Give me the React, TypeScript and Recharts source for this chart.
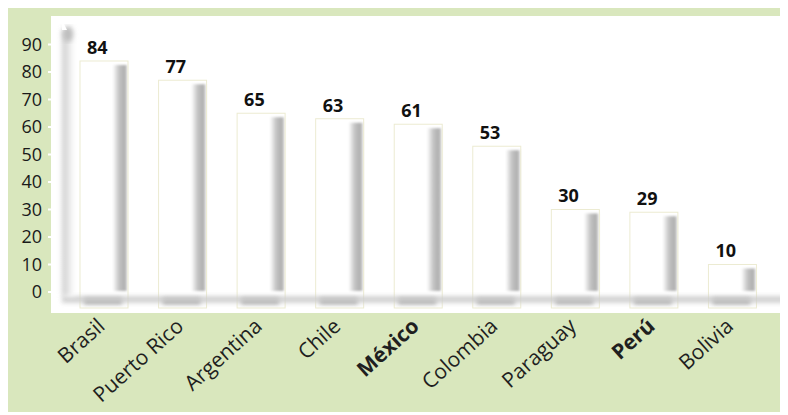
import React from 'react';
import { BarChart, Bar, XAxis, YAxis, CartesianGrid, LabelList, ReferenceLine } from 'recharts';

const categories = ['Brasil', 'Puerto Rico', 'Argentina', 'Chile', 'México', 'Colombia', 'Paraguay', 'Perú', 'Bolivia'];
const values = [84, 77, 65, 63, 61, 53, 30, 29, 10];
const yTicks = [0, 10, 20, 30, 40, 50, 60, 70, 80, 90];
const boldCategories = ['México', 'Perú'];

const data = categories.map((name, i) => ({ name, value: values[i] }));

const BarShape = (props: any) => {
  const { x, y, width, height } = props;
  if (width == null || height == null) return null;
  const base = y + height;
  return (
    <g>
      <rect x={x} y={y} width={width} height={height} fill="#ffffff" />
      <rect x={x + width * 0.68} y={y + 4} width={width * 0.32 - 1} height={Math.max(0, height - 5)} fill="url(#barShade)" filter="url(#soft)" />
      <rect x={x + 4} y={base + 6} width={width - 10} height={6} fill="#a0a0a0" filter="url(#blurFloor)" />
      <rect x={x} y={y} width={width} height={height + 16} fill="none" stroke="#ecebd2" strokeWidth={1} />
    </g>
  );
};

const Decor = (props: any) => {
  const { x1, x2, y1 } = props;
  return (
    <g>
      <defs>
        <linearGradient id="barShade" x1="0" y1="0" x2="1" y2="0">
          <stop offset="0%" stopColor="#ffffff" />
          <stop offset="45%" stopColor="#c4c4c4" />
          <stop offset="80%" stopColor="#b0b0b0" />
          <stop offset="100%" stopColor="#cacaca" />
        </linearGradient>
        <linearGradient id="axisShade" x1="0" y1="0" x2="1" y2="0">
          <stop offset="0%" stopColor="#c8c8c8" />
          <stop offset="100%" stopColor="#ffffff" />
        </linearGradient>
        <filter id="soft" x="-50%" y="-20%" width="200%" height="140%">
          <feGaussianBlur stdDeviation="1.3" />
        </filter>
        <filter id="blurFloor" x="-30%" y="-100%" width="160%" height="300%">
          <feGaussianBlur stdDeviation="2" />
        </filter>
        <filter id="blurAxis" x="-100%" y="-10%" width="300%" height="120%">
          <feGaussianBlur stdDeviation="2.5" />
        </filter>
      </defs>
      <rect x={x1 + 11} y={y1 + 4} width={x2 - x1 - 14} height={7} fill="#cccccc" opacity={0.85} filter="url(#blurFloor)" />
      <rect x={x1 + 11} y={y1 - 262} width={12} height={266} fill="url(#axisShade)" filter="url(#blurAxis)" />
      <ellipse cx={x1 + 17} cy={y1 - 258} rx={5} ry={8} fill="#bdbdbd" filter="url(#blurAxis)" />
      <path d={`M ${x1 + 11} ${y1 - 272} L ${x1 + 16} ${y1 - 262} L ${x1 + 11} ${y1 - 262} Z`} fill="#ffffff" />
      <path d={`M ${x2 - 6} ${y1 + 4} L ${x2 - 2} ${y1 + 8} L ${x2 - 6} ${y1 + 12} Z`} fill="#ffffff" />
    </g>
  );
};

const ValueLabel = (props: any) => {
  const vb = props.viewBox || {};
  const x = props.x ?? vb.x;
  const y = props.y ?? vb.y;
  const width = props.width ?? vb.width;
  if (x == null || y == null) return null;
  return (
    <text x={x + width * 0.36} y={y - 7} textAnchor="middle" fontSize={18} fontWeight={700} fill="#111111">
      {props.value}
    </text>
  );
};

const XTick = (props: any) => {
  const { x, y, payload } = props;
  const bold = boldCategories.includes(payload.value);
  const ax = x + 2;
  const ay = y + 15;
  return (
    <text x={ax} y={ay} transform={`rotate(-42 ${ax} ${ay})`} textAnchor="end" fontSize={21} fontWeight={bold ? 700 : 400} fill="#1f1f1f">
      {payload.value}
    </text>
  );
};

export default function App() {
  return (
    <div style={{ width: 780, height: 407, marginTop: -3, background: '#d9e7bd', fontFamily: "'Open Sans', sans-serif" }}>
      <BarChart width={780} height={407} data={data} margin={{ top: 11, right: 0, left: 0, bottom: 0 }}>
        <CartesianGrid fill="#ffffff" horizontal={false} vertical={false} />
        <XAxis
          dataKey="name"
          type="category"
          height={99}
          padding={{ left: 14, right: 16 }}
          axisLine={false}
          tickLine={false}
          tickSize={0}
          tickMargin={0}
          interval={0}
          tick={<XTick />}
        />
        <YAxis
          type="number"
          width={43}
          domain={[-7.64, 100.36]}
          allowDataOverflow
          ticks={yTicks}
          axisLine={false}
          tickSize={3}
          tickMargin={6}
          tickLine={{ stroke: '#ffffff', strokeWidth: 2 }}
          tick={{ fontSize: 18, fill: '#1a1a1a' }}
        />
        <ReferenceLine y={0} shape={<Decor />} ifOverflow="extendDomain" />
        <Bar dataKey="value" barSize={48} shape={<BarShape />} isAnimationActive={false}>
          <LabelList dataKey="value" content={<ValueLabel />} />
        </Bar>
      </BarChart>
    </div>
  );
}
